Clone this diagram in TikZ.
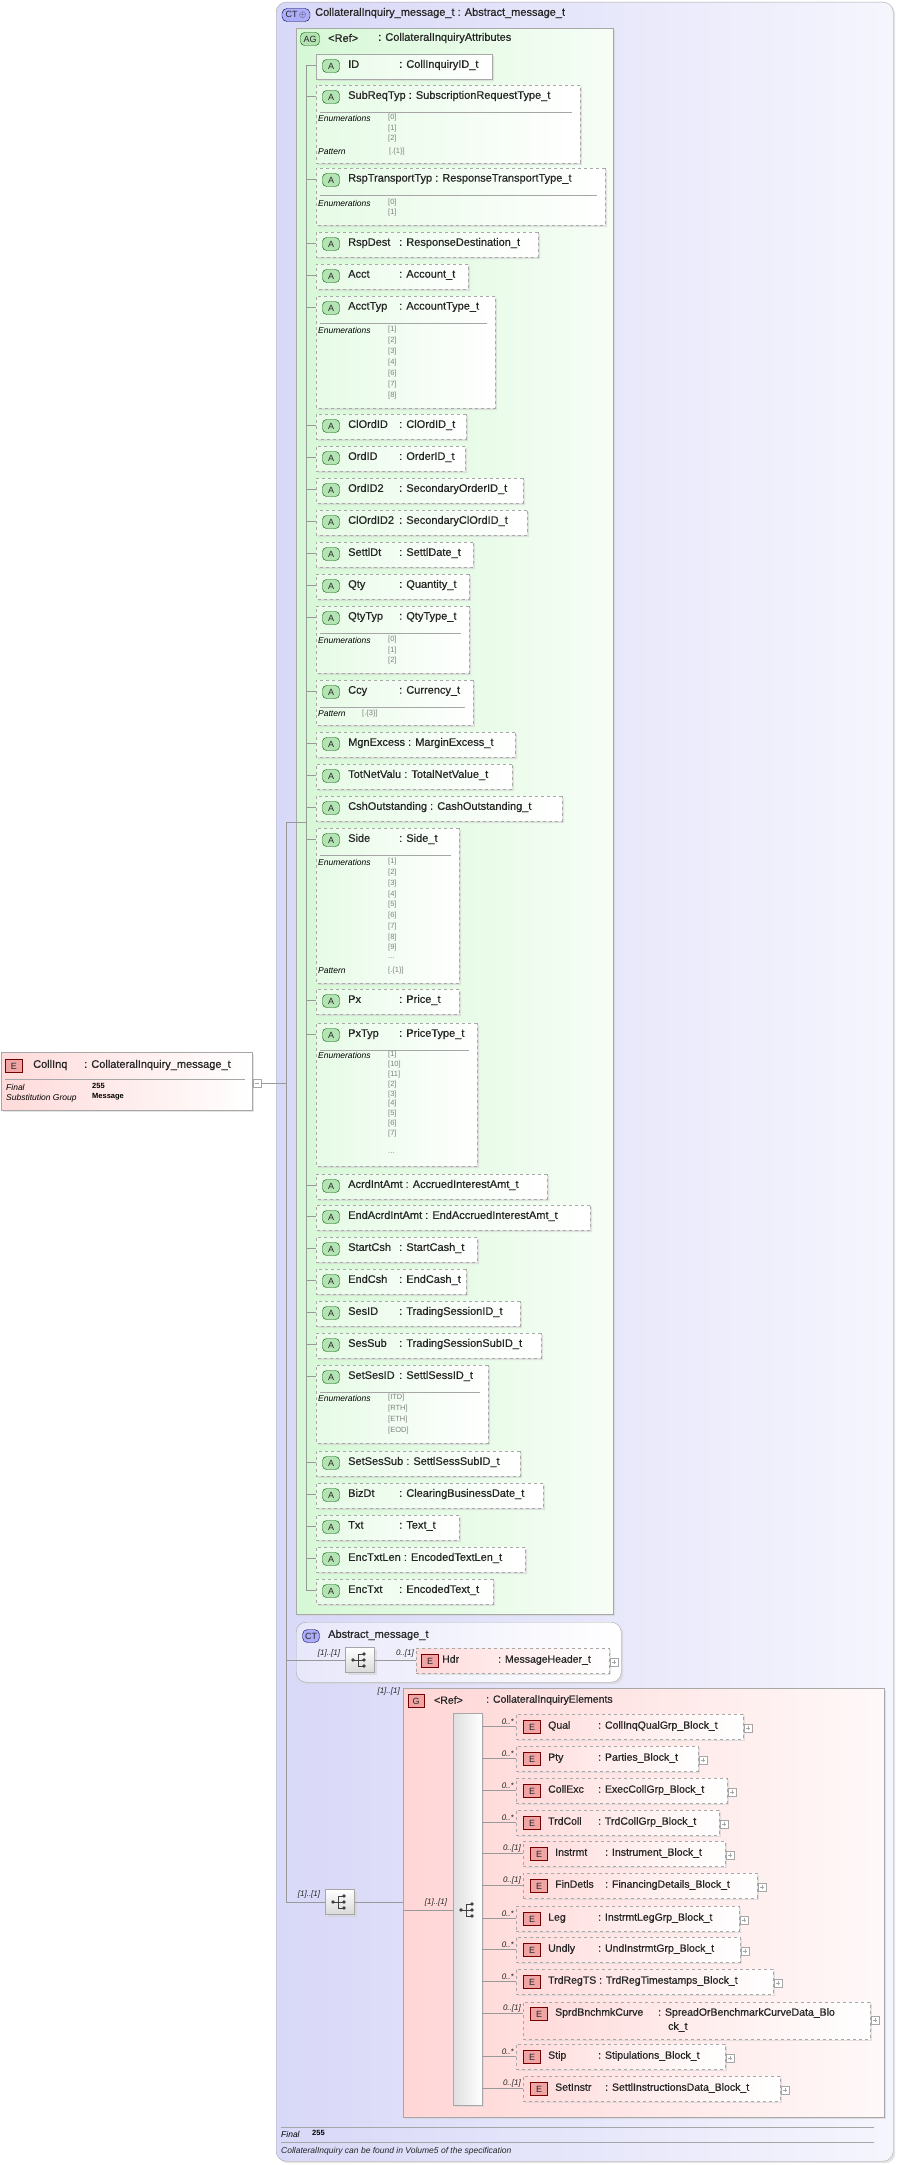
\documentclass[tikz,border=0pt]{standalone}
\usepackage{fontspec}
\setmainfont{Liberation Sans}
\newfontfamily\hdrfont{Liberation Sans}[FakeBold=0.6]
\usetikzlibrary{shapes.misc,shadows}
\definecolor{txt}{HTML}{262626}
\definecolor{ctbg}{HTML}{D8D8F8}
\definecolor{agbg}{HTML}{D6F8D6}
\definecolor{gbg}{HTML}{FFD6D6}
\definecolor{ebg}{HTML}{FFDADA}
\definecolor{abadgec}{HTML}{B4E4B4}
\definecolor{ebadgec}{HTML}{F0A4A4}
\definecolor{brd}{HTML}{A8A8A8}

\tikzset{
  hdr/.style={anchor=west, inner sep=0pt, text=txt, font=\hdrfont\fontsize{11}{13}\selectfont},
  ehdr/.style={hdr, font=\hdrfont\fontsize{10.5}{13}\selectfont},
  lab/.style={anchor=west, inner sep=0pt, font=\fontsize{8.5}{9}\itshape},
  val/.style={anchor=west, inner sep=0pt, text=gray, font=\fontsize{7.5}{8}\selectfont},
  mult/.style={inner sep=0pt, font=\fontsize{8}{9}\itshape, text=txt},
  conn/.style={draw=gray!80, line width=0.6pt},
  shd/.style={drop shadow={shadow xshift=2pt, shadow yshift=-2pt, fill=gray!35, opacity=.6}},
  abox/.style={chamfered rectangle, chamfered rectangle corners={north west,south west},
    chamfered rectangle xsep=6pt, chamfered rectangle ysep=6pt, inner sep=0pt,
    draw=brd, dashed, left color=agbg!60!white, right color=white, shd},
  ebox/.style={rectangle, inner sep=0pt, draw=brd, dashed, left color=ebg, right color=white, shd},
  badge/.style={draw, minimum width=17pt, minimum height=13pt, inner sep=0pt, text=txt,
    font=\fontsize{9}{9}\selectfont},
  abadge/.style={badge, rounded corners=4pt, fill=abadgec, draw=green!35!black},
  ebadge/.style={badge, fill=ebadgec, draw=red!45!black},
  ctbadge/.style={badge, rounded corners=5pt, fill=ctbg!80!blue, draw=blue!30!black},
  seqbox/.style={draw=gray!70, minimum width=29pt, minimum height=25pt, inner sep=0pt,
    top color=white, bottom color=gray!30, shd},
}

\newsavebox\nmbx
\newcommand\namecol[2]{\sbox\nmbx{#2\ }\ifdim\wd\nmbx<#1pt\makebox[#1pt][l]{#2}\else\usebox\nmbx\fi}

% attribute: id, top, bottom, right, name, type, extra style
\newcommand\attr[7]{%
  \node[abox,#7,minimum width={(#4-316)*1pt},minimum height={(#3-#2)*1pt},anchor=north west] (#1) at (316,#2) {};
  \node[abadge] at (331,#2+12) {A};
  \node[hdr] at (348,#2+11) {\namecol{51}{#5}: #6};
  \coordinate (s#1) at (306,#2+11);
  \draw[conn] (s#1) -- (#1.west |- s#1);
}
\newcommand\sepl[2]{\draw[gray!70] (320,#1+27) -- (#2-8,#1+27);}
\newcommand\enums[3]{%
  \node[lab] at (318,#1) {Enumerations};
  \foreach \v [count=\i from 0] in {#3} \node[val] at (388,#1+\i*#2) {\v};}
\newcommand\patt[3]{\node[lab] at (318,#1) {Pattern}; \node[val] at (#2,#1) {#3};}
\newcommand\plusbox[2]{%
  \draw[gray!70,fill=white,line width=.5pt] (#1+1,#2-4) rectangle (#1+9,#2+4);
  \draw[gray!70,line width=.5pt] (#1+3,#2) -- (#1+7,#2) (#1+5,#2-2) -- (#1+5,#2+2);}
% element: id, x0, hdr, right, name, type, mult
\newcommand\elem[7]{%
  \node[ebox,minimum width={(#4-#2)*1pt},minimum height=25pt,anchor=north west] (#1) at (#2,#3-12) {};
  \node[ebadge] at (#2+16,#3+1) {E};
  \node[ehdr] at (#2+32,#3) {\namecol{50}{#5}: #6};
  \plusbox{#4}{#3+2}
  \node[mult,anchor=south east] at (#2-2,#3-1) {#7};
  \coordinate (b#1) at (bar.east |- 0,#3);
  \draw[conn] (b#1) -- (#1.west |- b#1);
}
\newcommand\seqicon[1]{%
  \fill[gray!50!black] (-7,0) circle (1.8);
  \draw[gray!50!black,line width=.6pt] (-7,0) -- (-2,0) (-2,-6) -- (-2,6);
  \foreach \d in {-6,0,6} {\draw[gray!50!black,line width=.6pt] (-2,\d) -- (4,\d);
    \fill[gray!50!black] (4,\d) circle (1.9);}}

\begin{document}
\begin{tikzpicture}[x=1pt,y=-1pt]
\useasboundingbox (0,0) rectangle (898,2165);

% outer complex type
\node[draw=brd, rounded corners=10pt, left color=ctbg, right color=ctbg!25!white, inner sep=0pt,
  minimum width=617pt, minimum height=2159pt, anchor=north west, shd] (CT) at (276,2) {};
\node[ctbadge, minimum width=28pt] at (296,15) {CT\,$\oplus$};
\node[hdr] at (315,13) {CollateralInquiry\_message\_t : Abstract\_message\_t};

% attribute group
\node[chamfered rectangle, chamfered rectangle corners=south west, chamfered rectangle xsep=12pt,
  chamfered rectangle ysep=12pt, draw=brd, left color=agbg, right color=agbg!20!white,
  inner sep=0pt, minimum width=317pt, minimum height=1586pt, anchor=north west, shd] (AG) at (296,28) {};
\node[abadge, minimum width=19pt] at (310,39) {AG};
\node[hdr] at (328,38) {<Ref>};
\node[hdr] at (378,38) {: CollateralInquiryAttributes};
\draw[conn] (306,65) -- (306,1590);

\attr{ID}{54}{79}{492}{ID}{CollInquiryID\_t}{solid}
\attr{SubReqTyp}{85}{163}{580}{SubReqTyp}{SubscriptionRequestType\_t}{}
\sepl{85}{580}\enums{118}{10.3}{[0],[1],[2]}\patt{152}{389}{[.\{1\}]}
\attr{RspTransportTyp}{168}{225}{605}{RspTransportTyp}{ResponseTransportType\_t}{}
\sepl{168}{605}\enums{203}{10}{[0],[1]}
\attr{RspDest}{232}{257}{538}{RspDest}{ResponseDestination\_t}{}
\attr{Acct}{264}{289}{468}{Acct}{Account\_t}{}
\attr{AcctTyp}{296}{408}{495}{AcctTyp}{AccountType\_t}{}
\sepl{296}{495}\enums{330}{11}{[1],[2],[3],[4],[6],[7],[8]}
\attr{ClOrdID}{414}{439}{466}{ClOrdID}{ClOrdID\_t}{}
\attr{OrdID}{446}{471}{465}{OrdID}{OrderID\_t}{}
\attr{OrdIDb}{478}{503}{523}{OrdID2}{SecondaryOrderID\_t}{}
\attr{ClOrdIDb}{510}{535}{527}{ClOrdID2}{SecondaryClOrdID\_t}{}
\attr{SettlDt}{542}{567}{473}{SettlDt}{SettlDate\_t}{}
\attr{Qty}{574}{599}{469}{Qty}{Quantity\_t}{}
\attr{QtyTyp}{606}{673}{469}{QtyTyp}{QtyType\_t}{}
\sepl{606}{469}\enums{640}{10.5}{[0],[1],[2]}
\attr{Ccy}{680}{725}{473}{Ccy}{Currency\_t}{}
\sepl{680}{473}\patt{714}{362}{[.\{3\}]}
\attr{MgnExcess}{732}{757}{515}{MgnExcess}{MarginExcess\_t}{}
\attr{TotNetValu}{764}{789}{512}{TotNetValu}{TotalNetValue\_t}{}
\attr{CshOutstanding}{796}{821}{562}{CshOutstanding}{CashOutstanding\_t}{}
\attr{Side}{828}{983}{459}{Side}{Side\_t}{}
\sepl{828}{459}\enums{862}{10.75}{[1],[2],[3],[4],[5],[6],[7],[8],[9]}
\node[val] at (388,958) {...};\patt{971}{388}{[.\{1\}]}
\attr{Px}{989}{1014}{459}{Px}{Price\_t}{}
\attr{PxTyp}{1023}{1166}{477}{PxTyp}{PriceType\_t}{}
\sepl{1023}{477}\enums{1055}{9.8}{[1],[10],[11],[2],[3],[4],[5],[6],[7]}
\node[val] at (388,1153) {...};
\attr{AcrdIntAmt}{1174}{1199}{547}{AcrdIntAmt}{AccruedInterestAmt\_t}{}
\attr{EndAcrdIntAmt}{1205}{1230}{590}{EndAcrdIntAmt}{EndAccruedInterestAmt\_t}{}
\attr{StartCsh}{1237}{1262}{477}{StartCsh}{StartCash\_t}{}
\attr{EndCsh}{1269}{1294}{466}{EndCsh}{EndCash\_t}{}
\attr{SesID}{1301}{1326}{520}{SesID}{TradingSessionID\_t}{}
\attr{SesSub}{1333}{1358}{541}{SesSub}{TradingSessionSubID\_t}{}
\attr{SetSesID}{1365}{1443}{488}{SetSesID}{SettlSessID\_t}{}
\sepl{1365}{488}\enums{1398}{10.7}{[ITD],[RTH],[ETH],[EOD]}
\attr{SetSesSub}{1451}{1476}{520}{SetSesSub}{SettlSessSubID\_t}{}
\attr{BizDt}{1483}{1508}{543}{BizDt}{ClearingBusinessDate\_t}{}
\attr{Txt}{1515}{1540}{459}{Txt}{Text\_t}{}
\attr{EncTxtLen}{1547}{1572}{525}{EncTxtLen}{EncodedTextLen\_t}{}
\attr{EncTxt}{1579}{1604}{493}{EncTxt}{EncodedText\_t}{}

% root element
\node[draw=brd, left color=ebg, right color=white, inner sep=0pt, minimum width=251pt,
  minimum height=58pt, anchor=north west, shd] (CollInq) at (1,1052) {};
\node[ebadge] at (14,1066) {E};
\node[hdr] at (33,1065) {\namecol{51}{CollInq}: CollateralInquiry\_message\_t};
\draw[gray!70] (5,1079) -- (245,1079);
\node[lab] at (6,1087) {Final};
\node[lab] at (6,1098) {Substitution Group};
\node[val, text=black, font=\fontsize{7.5}{8}\bfseries] at (92,1086) {255};
\node[val, text=black, font=\fontsize{7.5}{8}\bfseries] at (92,1097) {Message};
\draw[gray!70,fill=white,line width=.5pt] (253,1079) rectangle (261,1087);
\draw[gray!70,line width=.5pt] (255,1083) -- (259,1083);
\coordinate (root) at (261,1083);
\coordinate (trunk) at (286,1083);
\coordinate (tTop) at (286,822);
\coordinate (tBot) at (286,1902);
\draw[conn] (root) -- (trunk);
\draw[conn] (tTop) -- (tBot);
\draw[conn] (tTop) -- (sID |- tTop);

% Abstract_message_t
\node[draw=brd, rounded corners=10pt, left color=ctbg!60!white, right color=white, inner sep=0pt,
  minimum width=325pt, minimum height=60pt, anchor=north west, shd] (AM) at (296,1622) {};
\node[ctbadge] at (311,1636) {CT};
\node[hdr] at (328,1635) {Abstract\_message\_t};
\node[seqbox] (seqA) at (360,1660) {};
\begin{scope}[shift={(360,1660)}]\seqicon{}\end{scope}
\coordinate (tAM) at (286,1660);
\draw[conn] (tAM) -- (seqA.west);
\node[mult,anchor=south] at (329,1657) {[1]..[1]};
\node[ebox,minimum width=193pt,minimum height=25pt,anchor=north west] (Hdr) at (416,1648) {};
\node[ebadge] at (430,1661) {E};
\node[ehdr] at (442,1660) {\namecol{56}{Hdr}: MessageHeader\_t};
\plusbox{609}{1662}
\node[mult,anchor=south east] at (414,1657) {0..[1]};
\draw[conn] (seqA.east) -- (Hdr.west |- seqA.east);

% group
\node[draw=brd, left color=gbg, right color=gbg!15!white, inner sep=0pt, minimum width=481pt,
  minimum height=429pt, anchor=north west, shd] (G) at (403,1688) {};
\node[ebadge, minimum width=16pt] at (416,1701) {G};
\node[ehdr] at (434,1700) {<Ref>};
\node[ehdr] at (486,1700) {: CollateralInquiryElements};
\node[mult,anchor=south east] at (400,1695) {[1]..[1]};

\node[seqbox] (seqB) at (340,1902) {};
\begin{scope}[shift={(340,1902)}]\seqicon{}\end{scope}
\draw[conn] (tBot) -- (seqB.west);
\node[mult,anchor=south] at (309,1898) {[1]..[1]};
\draw[conn] (seqB.east) -- (G.west |- seqB.east);

\node[draw=gray!70, left color=gray!25, right color=white, inner sep=0pt, minimum width=29pt,
  minimum height=392pt, anchor=north west, shd] (bar) at (453,1713) {};
\begin{scope}[shift={(468,1910)}]\seqicon{}\end{scope}
\coordinate (gIn) at (G.west |- 0,1910);
\draw[conn] (gIn) -- (bar.west |- gIn);
\node[mult,anchor=south] at (436,1906) {[1]..[1]};

\elem{Qual}{516}{1726}{743}{Qual}{CollInqQualGrp\_Block\_t}{0..*}
\elem{Pty}{516}{1758}{698}{Pty}{Parties\_Block\_t}{0..*}
\elem{CollExc}{516}{1790}{727}{CollExc}{ExecCollGrp\_Block\_t}{0..*}
\elem{TrdColl}{516}{1822}{719}{TrdColl}{TrdCollGrp\_Block\_t}{0..*}
\elem{Instrmt}{523}{1853}{725}{Instrmt}{Instrument\_Block\_t}{0..[1]}
\elem{FinDetls}{523}{1885}{757}{FinDetls}{FinancingDetails\_Block\_t}{0..[1]}
\elem{Leg}{516}{1918}{739}{Leg}{InstrmtLegGrp\_Block\_t}{0..*}
\elem{Undly}{516}{1949}{740}{Undly}{UndInstrmtGrp\_Block\_t}{0..*}
\elem{TrdRegTS}{516}{1981}{773}{TrdRegTS}{TrdRegTimestamps\_Block\_t}{0..*}
% two-line element
\node[ebox,minimum width=347pt,minimum height=37pt,anchor=north west] (Sprd) at (523,2002) {};
\node[ebadge] at (539,2014) {E};
\node[ehdr] at (555,2013) {SprdBnchmkCurve};
\node[ehdr] at (658,2013) {: SpreadOrBenchmarkCurveData\_Blo};
\node[ehdr] at (668,2027) {ck\_t};
\plusbox{870}{2020}
\node[mult,anchor=south east] at (521,2012) {0..[1]};
\coordinate (bSprd) at (bar.east |- 0,2013);
\draw[conn] (bSprd) -- (Sprd.west |- bSprd);
\elem{Stip}{516}{2056}{725}{Stip}{Stipulations\_Block\_t}{0..*}
\elem{SetInstr}{523}{2088}{780}{SetInstr}{SettlInstructionsData\_Block\_t}{0..[1]}

% footer
\draw[gray!70] (281,2127) -- (874,2127);
\node[lab] at (281,2134) {Final};
\node[val, text=black, font=\fontsize{7.5}{8}\bfseries] at (312,2133) {255};
\draw[gray!70] (281,2142) -- (874,2142);
\node[lab, text=txt] at (281,2151) {CollateralInquiry can be found in Volume5 of the specification};
\end{tikzpicture}
\end{document}
